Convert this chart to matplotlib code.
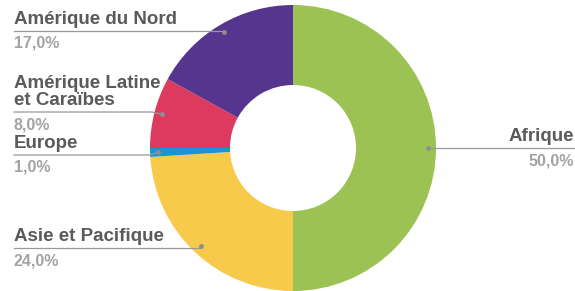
import numpy as np
import matplotlib.pyplot as plt

# Données
regions = ["Afrique", "Asie et Pacifique", "Europe",
           "Amérique Latine\net Caraïbes", "Amérique du Nord"]
parts = [50.0, 24.0, 1.0, 8.0, 17.0]
colors = ["#9cc254", "#f8ca4b", "#1896d4", "#dc3a5f", "#55358d"]

W, H = 575, 291
cx, cy = 293, H - 148
R, Rin = 143, 63
rDot = 135

# position des etiquettes (coord. image): y de la ligne, x du coude
label_y = [148, 248, 155, 112, 31]
elbow_x = [None, None, 150, 152, None]

fig = plt.figure(figsize=(W / 100, H / 100), dpi=100)
ax = fig.add_axes([0, 0, 1, 1])
ax.pie(parts, colors=colors, radius=R, center=(cx, cy), startangle=90,
       counterclock=False, wedgeprops=dict(width=R - Rin, linewidth=0))
ax.set_xlim(0, W)
ax.set_ylim(0, H)
ax.set_aspect("equal")
ax.axis("off")

dark = "#5a5a5a"
light = "#a3a3a3"
lcol = "#9a9a9a"
font = "Liberation Sans"
fsName, fsPct = 13.5, 11.5

cum = np.cumsum([0] + parts[:-1])
for i, name in enumerate(regions):
    mid = cum[i] + parts[i] / 2
    ang = np.deg2rad(90 - mid / 100 * 360)
    dx = cx + rDot * np.cos(ang)
    dy = cy + rDot * np.sin(ang)
    ly = H - label_y[i]
    pct = ("%.1f%%" % parts[i]).replace(".", ",")
    if dx > cx:
        # etiquette a droite
        ax.plot([dx, W], [ly, ly], color=lcol, lw=0.9, solid_capstyle="butt")
        ax.text(W - 1, ly + 3, name, ha="right", va="bottom", fontsize=fsName,
                fontweight="bold", color=dark, family=font)
        ax.text(W - 1, ly - 5, pct, ha="right", va="top", fontsize=fsPct,
                fontweight="bold", color=light, family=font)
    else:
        if elbow_x[i] is None:
            ax.plot([14, dx], [ly, ly], color=lcol, lw=0.9)
        else:
            ax.plot([14, elbow_x[i], dx], [ly, ly, dy], color=lcol, lw=0.9)
        ax.text(14, ly + 3, name, ha="left", va="bottom", fontsize=fsName,
                fontweight="bold", color=dark, family=font, linespacing=1.0)
        ax.text(14, ly - 5, pct, ha="left", va="top", fontsize=fsPct,
                fontweight="bold", color=light, family=font)
    ax.plot(dx, dy, "o", ms=3.5, color="#8e8e8e", mec="none")

fig.savefig("out.png", dpi=100)
